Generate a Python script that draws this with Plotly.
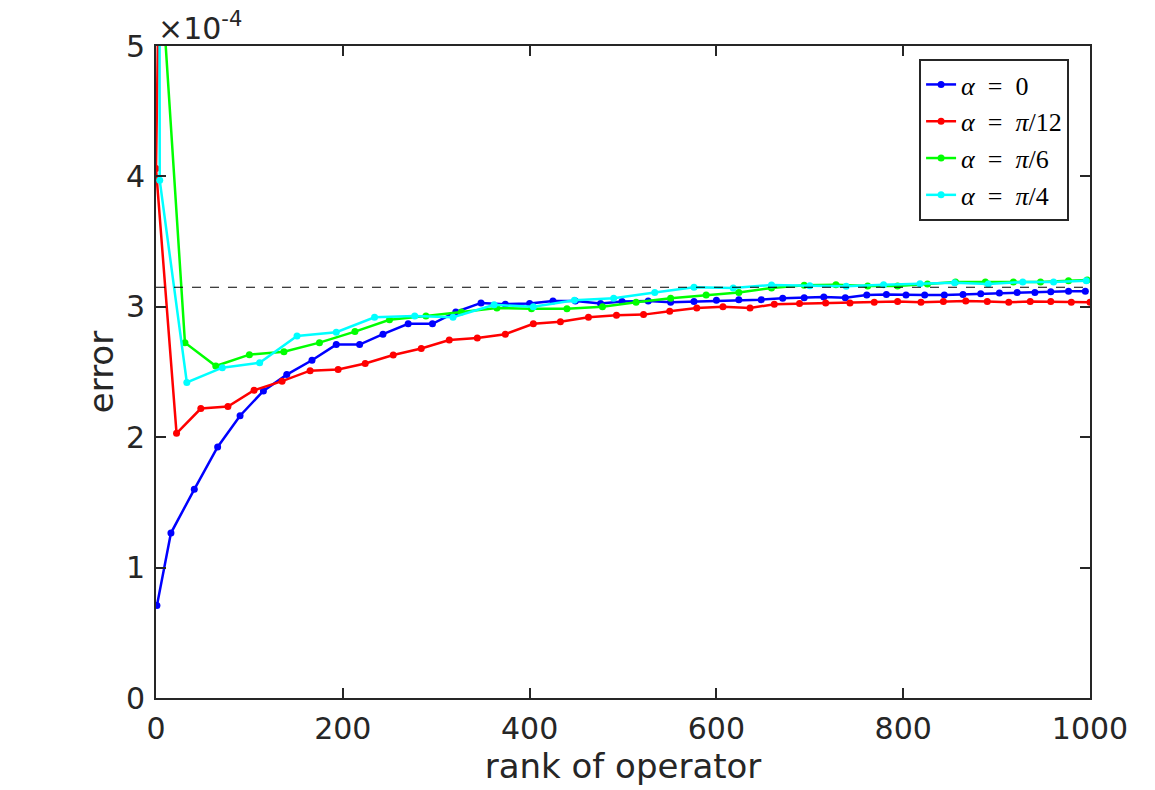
import plotly.graph_objects as go

# error values are in units of 1e-4 (axis shows the x10^-4 factor)
rank_a0 = [1, 16, 41, 66, 90, 115, 140, 167, 193, 218, 243, 270, 296, 321, 348, 374, 400,
           425, 449, 476, 499, 527, 551, 576, 600, 624, 648, 671, 694, 715, 738, 761, 782,
           803, 823, 844, 864, 883, 903, 922, 941, 958, 977, 995]
err_a0 = [0.71, 1.265, 1.60, 1.925, 2.165, 2.355, 2.48, 2.59, 2.71, 2.71, 2.79, 2.87, 2.87,
          2.96, 3.03, 3.02, 3.025, 3.045, 3.045, 3.025, 3.04, 3.045, 3.035, 3.04, 3.05,
          3.055, 3.055, 3.065, 3.07, 3.075, 3.07, 3.09, 3.095, 3.09, 3.09, 3.09, 3.095,
          3.10, 3.105, 3.11, 3.11, 3.115, 3.12, 3.12]

rank_a12 = [3, 0, 22, 48, 77, 105, 135, 165, 195, 224, 254, 284, 314, 344, 374, 404, 433,
            463, 493, 522, 550, 579, 607, 636, 662, 689, 717, 743, 769, 794, 819, 843, 867,
            890, 913, 936, 958, 980, 1000]
err_a12 = [5.5, 4.06, 2.03, 2.22, 2.235, 2.36, 2.43, 2.51, 2.52, 2.565, 2.63, 2.68, 2.745,
           2.76, 2.79, 2.87, 2.885, 2.92, 2.935, 2.94, 2.965, 2.99, 3.00, 2.99, 3.02, 3.025,
           3.03, 3.03, 3.035, 3.04, 3.035, 3.04, 3.045, 3.04, 3.035, 3.04, 3.04, 3.035, 3.035]

rank_a6 = [1, 31, 64, 100, 137, 175, 213, 250, 289, 327, 365, 402, 440, 478, 514, 551, 589,
           624, 659, 694, 728, 762, 794, 826, 856, 888, 918, 947, 977, 997]
err_a6 = [6.04, 2.725, 2.546, 2.633, 2.656, 2.725, 2.81, 2.90, 2.93, 2.96, 2.99, 2.985,
          2.985, 3.00, 3.035, 3.065, 3.09, 3.11, 3.145, 3.165, 3.17, 3.16, 3.16, 3.175,
          3.19, 3.19, 3.19, 3.19, 3.20, 3.205]

rank_a4 = [3.5, 4, 33, 71, 111, 151, 193, 234, 277, 318, 362, 404, 448, 490, 534, 576, 618,
           659, 700, 739, 779, 818, 855, 891, 928, 961, 996]
err_a4 = [7.0, 3.97, 2.42, 2.533, 2.571, 2.776, 2.805, 2.92, 2.93, 2.92, 3.015, 3.00, 3.05,
          3.065, 3.11, 3.15, 3.145, 3.167, 3.162, 3.157, 3.17, 3.177, 3.185, 3.175, 3.19,
          3.19, 3.20]

ref_level = 3.15

series = [
    ("<i>α</i>  =  0", rank_a0, err_a0, "#0000ff"),
    ("<i>α</i>  =  <i>π</i>/12", rank_a12, err_a12, "#ff0000"),
    ("<i>α</i>  =  <i>π</i>/6", rank_a6, err_a6, "#00ff00"),
    ("<i>α</i>  =  <i>π</i>/4", rank_a4, err_a4, "#00ffff"),
]

fig = go.Figure()
fig.add_hline(y=ref_level, line=dict(color="black", width=1.2, dash="dash"))
for name, xs, ys, col in series:
    fig.add_trace(go.Scatter(x=xs, y=ys, name=name, mode="lines+markers",
                             line=dict(color=col, width=2.5),
                             marker=dict(color=col, size=7)))

axis_col = "#262626"
common = dict(showline=True, linecolor=axis_col, linewidth=2, mirror="ticks",
              ticks="inside", ticklen=10, tickwidth=2, tickcolor=axis_col,
              showgrid=False, zeroline=False,
              tickfont=dict(family="DejaVu Sans", size=30, color=axis_col))

fig.update_xaxes(range=[0, 1000], tickvals=[0, 200, 400, 600, 800, 1000],
                 ticklabelstandoff=3,
                 title=dict(text="rank of operator", standoff=8,
                            font=dict(family="DejaVu Sans", size=34, color=axis_col)),
                 **common)
fig.update_yaxes(range=[0, 5], tickvals=[0, 1, 2, 3, 4, 5],
                 ticklabelstandoff=3,
                 title=dict(text="error", standoff=2,
                            font=dict(family="DejaVu Sans", size=34, color=axis_col)),
                 **common)

fig.add_annotation(text="×10<sup>-4</sup>", xref="paper", yref="paper", x=0.0, y=1.0,
                   xanchor="left", yanchor="bottom", showarrow=False, xshift=0, yshift=-2,
                   font=dict(family="DejaVu Sans", size=30, color=axis_col))

# page body adds an 8px offset, so the margins are shifted to compensate
fig.update_layout(
    width=1155, height=790,
    margin=dict(l=148, r=73, t=38, b=100),
    paper_bgcolor="white", plot_bgcolor="white",
    legend=dict(x=0.817, y=0.98, xanchor="left", yanchor="top",
                bgcolor="white", bordercolor=axis_col, borderwidth=2,
                font=dict(family="Liberation Serif", size=26, color="black"),
                itemwidth=30, tracegroupgap=0),
)

fig.write_html("out.html")
